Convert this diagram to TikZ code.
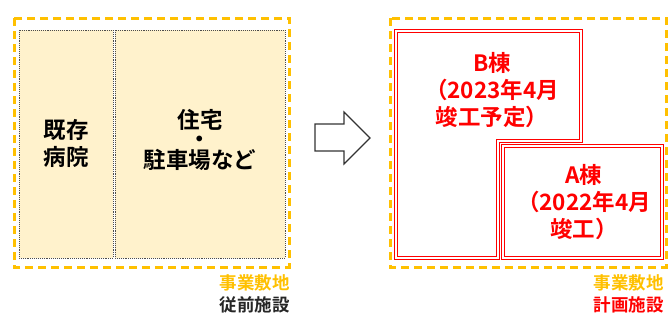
\documentclass[tikz,border=0pt]{standalone}
\usepackage{fontspec}
\setmainfont{Noto Sans CJK JP}
\newfontfamily\jpb{Noto Sans CJK JP}[BoldFont={* Bold}]
\definecolor{sitey}{HTML}{FFC000}
\definecolor{oldfill}{HTML}{FFF2CC}
\definecolor{newred}{HTML}{FF0000}
\begin{document}
\begin{tikzpicture}[x=1pt,y=-1pt,
  site/.style={draw=sitey,line width=3pt,dash pattern=on 8pt off 5pt},
  oldbox/.style={draw=black!70,fill=oldfill,densely dotted,line width=0.9pt},
  newouter/.style={draw=newred,line width=3.4pt,line join=miter},
  newinner/.style={draw=white,line width=1.2pt,line join=miter},
  big/.style={font=\jpb\bfseries\fontsize{22.5}{27}\selectfont,align=center,inner sep=0pt},
  small/.style={font=\jpb\bfseries\fontsize{17.5}{22}\selectfont,anchor=east,inner sep=0pt}]
\useasboundingbox (0,0) rectangle (669,327);
% left site
\draw[oldbox] (19,30) rectangle (113,258);
\draw[oldbox] (115,30) rectangle (285,258);
\draw[site] (14,18) rectangle (289,267);
\node[big] (hosp) at (66,143) {既存\\病院};
\node[big] (res) at (200,140) {住宅\\[-8pt]・\\[-6pt]駐車場など};
\node[small,text=sitey] (l1) at (290,283) {事業敷地};
\node[small,text=black!85] (l2) at (290,305) {従前施設};
% arrow
\draw[black!80,line width=1.2pt,line join=miter]
  (315,124) -- (344,124) -- (344,112) -- (370,138) -- (344,164) -- (344,151) -- (315,151) -- cycle;
% right site
\draw[site] (390,18) rectangle (666,267);
\coordinate (b1) at (396,31); \coordinate (b2) at (581,31); \coordinate (b3) at (581,141);
\coordinate (b4) at (498,141); \coordinate (b5) at (498,258); \coordinate (b6) at (396,258);
\draw[newouter] (b1) -- (b2) -- (b3) -- (b4) -- (b5) -- (b6) -- cycle;
\draw[newinner] (b1) -- (b2) -- (b3) -- (b4) -- (b5) -- (b6) -- cycle;
\coordinate (a1) at (503,146); \coordinate (a2) at (662,258);
\draw[newouter] (a1) rectangle (a2);
\draw[newinner] (a1) rectangle (a2);
\node[big,text=newred] (b) at (492,90) {B棟\\（2023年4月\\竣工予定）};
\node[big,text=newred] (a) at (584,202) {A棟\\（2022年4月\\竣工）};
\node[small,text=sitey] (r1) at (664,283) {事業敷地};
\node[small,text=newred] (r2) at (664,305) {計画施設};
\end{tikzpicture}
\end{document}
